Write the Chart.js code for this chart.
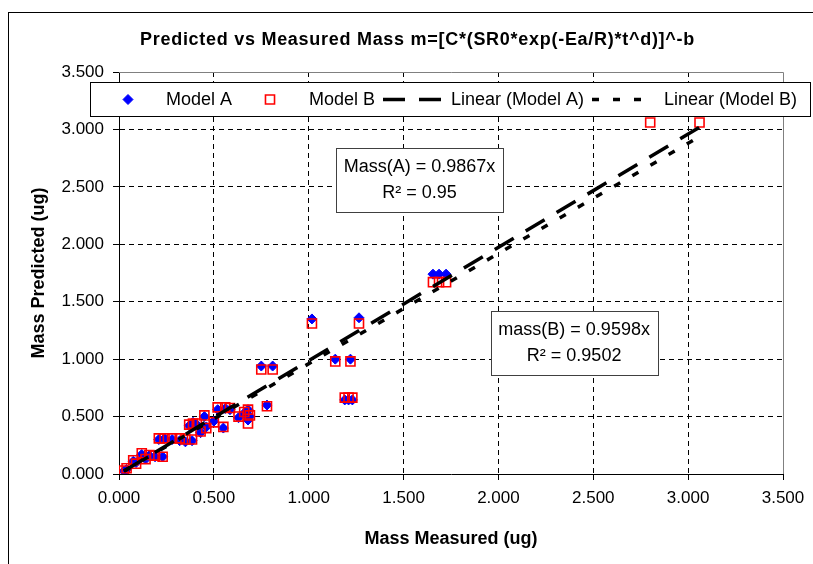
<!DOCTYPE html>
<html>
<head>
<meta charset="utf-8">
<script src="https://cdn.jsdelivr.net/npm/chart.js@4.4.0/dist/chart.umd.min.js"></script>
<style>
  html, body { margin: 0; padding: 0; background: #fff; overflow: hidden; }
  #wrap { position: absolute; left: 0; top: 0; width: 813px; height: 564px; }
  #frame { position: absolute; left: 8px; top: 12px; width: 830px; height: 600px; border: 1px solid #000; box-sizing: border-box; }
  #chart { position: absolute; left: 0; top: 0; }
</style>
</head>
<body>
<div id="wrap">
  <div id="frame"></div>
  <canvas id="chart" width="813" height="564"></canvas>
</div>
<script>
// measured mass (ug), shared by both models
const measured = [0.026, 0.04, 0.075, 0.09, 0.12, 0.14, 0.16, 0.19, 0.23, 0.21,
  0.24, 0.28, 0.32, 0.35, 0.385, 0.37, 0.41, 0.39, 0.43, 0.45,
  0.46, 0.50, 0.52, 0.55, 0.56, 0.585, 0.63, 0.66, 0.68, 0.68,
  0.69, 0.75, 0.78, 0.81, 1.017, 1.14, 1.19, 1.21, 1.22, 1.23,
  1.265, 1.655, 1.687, 1.724, 2.80, 3.06];
// predicted mass, model A (null = not on the plot)
const predictedA = [0.025, 0.04, 0.11, 0.10, 0.17, 0.13, 0.16, 0.15, 0.15, 0.30,
  0.31, 0.30, 0.29, 0.28, 0.29, 0.42, 0.43, 0.45, 0.36, 0.50,
  0.41, 0.46, 0.56, 0.40, 0.57, 0.56, 0.49, 0.53, 0.56, 0.47,
  0.50, 0.94, 0.60, 0.94, 1.35, 1.00, 0.645, 0.645, 1.00, 0.645,
  1.36, 1.74, 1.74, 1.74, null, null];
// predicted mass, model B
const predictedB = [0.03, 0.05, 0.12, 0.09, 0.18, 0.13, 0.165, 0.16, 0.15, 0.31,
  0.31, 0.31, 0.31, 0.30, 0.30, 0.43, 0.44, 0.44, 0.37, 0.51,
  0.40, 0.45, 0.58, 0.41, 0.58, 0.575, 0.50, 0.54, 0.56, 0.44,
  0.51, 0.91, 0.59, 0.91, 1.31, 0.98, 0.665, 0.665, 0.98, 0.665,
  1.31, 1.67, 1.67, 1.67, 3.06, 3.06];

const axisTicks = [0, 0.5, 1, 1.5, 2, 2.5, 3, 3.5];

// trendlines (forced through origin)
const slopeA = 0.9867, r2A = 0.95;
const slopeB = 0.9598, r2B = 0.9502;

const chartTitle = 'Predicted vs Measured Mass m=[C*(SR0*exp(-Ea/R)*t^d)]^-b';

const FONT = '"Liberation Sans", Arial, sans-serif';
Chart.defaults.font.family = FONT;
Chart.defaults.color = '#000';

function points(xs, ys) {
  const out = [];
  xs.forEach((x, i) => { if (ys[i] !== null) out.push({ x: x, y: ys[i] }); });
  return out;
}

const xMin = Math.min(...measured), xMax = Math.max(...measured);
const trend = (s) => [{ x: xMin, y: s * xMin }, { x: xMax, y: s * xMax }];

const hideEdges = (c) => (c.tick && (c.tick.value === axisTicks[0] || c.tick.value === axisTicks[axisTicks.length - 1])) ? 'rgba(0,0,0,0)' : '#000';

// top/right frame of the plot area, drawn in grey
const plotFrame = {
  id: 'plotFrame',
  beforeDatasetsDraw(chart) {
    const { ctx, chartArea: a } = chart;
    ctx.save();
    ctx.strokeStyle = '#808080';
    ctx.lineWidth = 1;
    ctx.beginPath();
    ctx.moveTo(a.left, a.top + 0.5);
    ctx.lineTo(a.right + 0.5, a.top + 0.5);
    ctx.lineTo(a.right + 0.5, a.bottom);
    ctx.stroke();
    ctx.restore();
  }
};

// slightly spaced-out bold title, like the Excel original
const spacedTitle = {
  id: 'spacedTitle',
  afterDraw(chart) {
    const ctx = chart.ctx;
    ctx.save();
    ctx.font = 'bold 18px ' + FONT;
    const plain = ctx.measureText(chartTitle).width;
    const target = 555;
    ctx.letterSpacing = Math.max(0, (target - plain) / chartTitle.length).toFixed(2) + 'px';
    ctx.textAlign = 'left';
    ctx.textBaseline = 'middle';
    ctx.fillStyle = '#000';
    ctx.fillText(chartTitle, 140, 40);
    ctx.restore();
  }
};

// text boxes with the fitted equations
const equations = [
  { x: 1.584, y: 2.56, lines: ['Mass(A) = ' + slopeA + 'x', 'R\u00b2 = ' + r2A] },
  { x: 2.399, y: 1.14, lines: ['mass(B) = ' + slopeB + 'x', 'R\u00b2 = ' + r2B] }
];
const eqBoxes = {
  id: 'eqBoxes',
  afterDraw(chart) {
    const { ctx, scales } = chart;
    ctx.save();
    ctx.font = '18px ' + FONT;
    ctx.textAlign = 'center';
    ctx.textBaseline = 'middle';
    equations.forEach(e => {
      const cx = scales.x.getPixelForValue(e.x);
      const cy = scales.y.getPixelForValue(e.y);
      const w = 167, h = 64;
      const l = Math.round(cx - w / 2) + 0.5, t = Math.round(cy - h / 2) + 0.5;
      ctx.fillStyle = '#fff';
      ctx.fillRect(l, t, w, h);
      ctx.strokeStyle = '#404040';
      ctx.lineWidth = 1;
      ctx.strokeRect(l, t, w, h);
      ctx.fillStyle = '#000';
      ctx.fillText(e.lines[0], cx, cy - 13);
      ctx.fillText(e.lines[1], cx, cy + 13);
    });
    ctx.restore();
  }
};

// Excel-style legend box across the top of the plot
const legendSlots = [
  { sx: 128, tx: 166 },
  { sx: 270, tx: 309 },
  { sx: 383, ex: 442, tx: 451 },
  { sx: 592, ex: 655, tx: 664 }
];
const boxLegend = {
  id: 'boxLegend',
  afterDraw(chart) {
    const ctx = chart.ctx;
    const top = 82.5, bottom = 116.5, left = 90.5, right = 810.5;
    const cy = (top + bottom) / 2;
    ctx.save();
    ctx.fillStyle = '#fff';
    ctx.fillRect(left, top, right - left, bottom - top);
    ctx.strokeStyle = '#000';
    ctx.lineWidth = 1;
    ctx.strokeRect(left, top, right - left, bottom - top);
    ctx.font = '18px ' + FONT;
    ctx.textBaseline = 'middle';
    ctx.textAlign = 'left';
    chart.data.datasets.forEach((ds, i) => {
      const slot = legendSlots[i];
      ctx.save();
      if (ds.showLine) {
        ctx.strokeStyle = ds.borderColor;
        ctx.lineWidth = ds.borderWidth;
        ctx.setLineDash(ds.borderDash);
        ctx.beginPath();
        ctx.moveTo(slot.sx, cy);
        ctx.lineTo(slot.ex, cy);
        ctx.stroke();
      } else {
        ctx.fillStyle = ds.backgroundColor;
        ctx.strokeStyle = ds.borderColor;
        ctx.lineWidth = ds.borderWidth;
        Chart.helpers.drawPoint(ctx, {
          pointStyle: ds.pointStyle,
          radius: ds.pointRadius,
          borderWidth: ds.borderWidth,
          rotation: 0
        }, slot.sx, cy);
      }
      ctx.restore();
      ctx.fillStyle = '#000';
      ctx.fillText(ds.label, slot.tx, cy + 1);
    });
    ctx.restore();
  }
};

new Chart(document.getElementById('chart'), {
  type: 'scatter',
  data: {
    datasets: [
      {
        label: 'Model A',
        data: points(measured, predictedA),
        pointStyle: 'rectRot',
        pointRadius: 5,
        backgroundColor: '#0000ff',
        borderColor: '#0000ff',
        borderWidth: 1,
        order: 3
      },
      {
        label: 'Model B',
        data: points(measured, predictedB),
        pointStyle: 'rect',
        pointRadius: 6.4,
        backgroundColor: 'rgba(0,0,0,0)',
        borderColor: '#ff0000',
        borderWidth: 1.6,
        order: 2
      },
      {
        label: 'Linear (Model A)',
        type: 'line',
        data: trend(slopeA),
        showLine: true,
        borderColor: '#000',
        borderWidth: 3.5,
        borderDash: [22, 14],
        borderCapStyle: 'butt',
        pointRadius: 0,
        fill: false,
        order: 0
      },
      {
        label: 'Linear (Model B)',
        type: 'line',
        data: trend(slopeB),
        showLine: true,
        borderColor: '#000',
        borderWidth: 3.5,
        borderDash: [7, 14],
        borderCapStyle: 'butt',
        pointRadius: 0,
        fill: false,
        order: 1
      }
    ]
  },
  options: {
    responsive: false,
    animation: false,
    events: [],
    devicePixelRatio: 1,
    layout: { padding: { left: 0, right: 30, top: 72, bottom: 0 } },
    plugins: {
      legend: { display: false },
      tooltip: { enabled: false },
      title: { display: false }
    },
    scales: {
      x: {
        type: 'linear',
        min: axisTicks[0],
        max: axisTicks[axisTicks.length - 1],
        afterFit(scale) { scale.height = 90; },
        afterBuildTicks(scale) { scale.ticks = axisTicks.map(v => ({ value: v })); },
        ticks: {
          font: { size: 17 },
          color: '#000',
          padding: 8,
          maxRotation: 0,
          callback: v => v.toFixed(3)
        },
        grid: { color: hideEdges, tickColor: '#000', tickLength: 6, lineWidth: 1 },
        border: { display: true, color: '#000', width: 1, dash: [5, 4] },
        title: {
          display: true,
          text: 'Mass Measured (ug)',
          font: { size: 18, weight: 'bold' },
          color: '#000',
          padding: { top: 0, bottom: 14 }
        }
      },
      y: {
        type: 'linear',
        min: axisTicks[0],
        max: axisTicks[axisTicks.length - 1],
        afterFit(scale) { scale.width = 119; },
        afterBuildTicks(scale) { scale.ticks = axisTicks.map(v => ({ value: v })); },
        ticks: {
          font: { size: 17 },
          color: '#000',
          padding: 9,
          callback: v => v.toFixed(3)
        },
        grid: { color: hideEdges, tickColor: '#000', tickLength: 6, lineWidth: 1 },
        border: { display: true, color: '#000', width: 1, dash: [5, 4] },
        title: {
          display: true,
          text: 'Mass Predicted (ug)',
          font: { size: 18, weight: 'bold' },
          color: '#000',
          padding: { top: 28, bottom: 0 }
        }
      }
    }
  },
  plugins: [plotFrame, eqBoxes, boxLegend, spacedTitle]
});
</script>
</body>
</html>
